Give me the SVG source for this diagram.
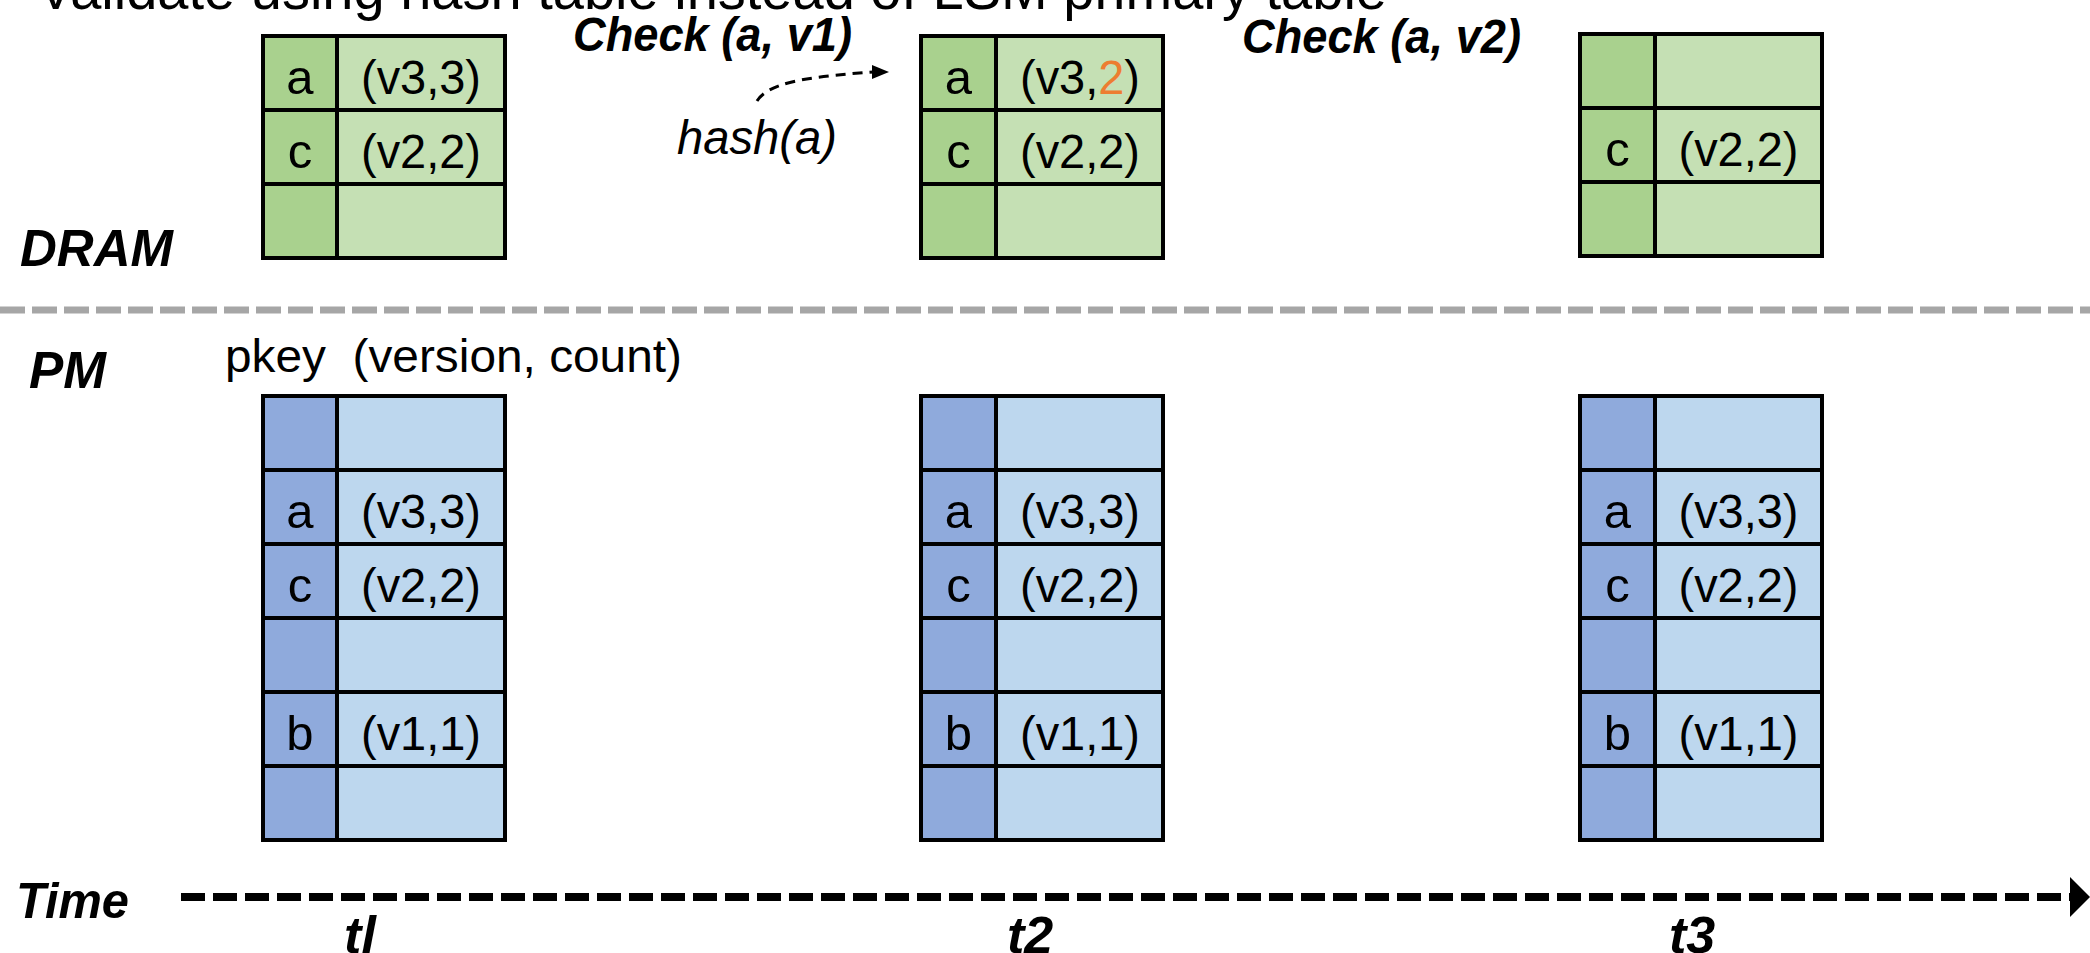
<svg xmlns="http://www.w3.org/2000/svg" width="2090" height="953" viewBox="0 0 2090 953">
<defs>
<style>
.kg{fill:#A9D18E}.vg{fill:#C5E0B4}.kb{fill:#8FAADC}.vb{fill:#BDD7EE}
.grid{fill:none;stroke:#000;stroke-width:4}
.ln{stroke:#000;stroke-width:4}
.t{font-family:"Liberation Sans",Arial,sans-serif;font-size:49px;fill:#000;text-anchor:middle}
.bi{font-family:"Liberation Sans",Arial,sans-serif;font-weight:bold;font-style:italic;fill:#000}
.it{font-family:"Liberation Sans",Arial,sans-serif;font-style:italic;fill:#000}
.reg{font-family:"Liberation Sans",Arial,sans-serif;fill:#000}
.or{fill:#ED7D31}
</style>
</defs>
<rect width="2090" height="953" fill="#fff"/>

<g id="title">
<text class="reg" x="37" y="9" font-size="58" textLength="1350" lengthAdjust="spacingAndGlyphs">Validate using hash table instead of LSM primary table</text>
</g>

<g id="labels">
<text class="bi" x="20" y="266" font-size="52" textLength="153" lengthAdjust="spacingAndGlyphs">DRAM</text>
<text class="bi" x="29" y="388" font-size="52" textLength="77" lengthAdjust="spacingAndGlyphs">PM</text>
<text class="bi" x="16" y="918" font-size="50" textLength="113" lengthAdjust="spacingAndGlyphs">Time</text>
<text class="bi" x="360" y="953" font-size="52" text-anchor="middle">tl</text>
<text class="bi" x="1030" y="953" font-size="52" text-anchor="middle">t2</text>
<text class="bi" x="1692" y="953" font-size="52" text-anchor="middle">t3</text>
<text class="bi" x="573" y="51" font-size="49" textLength="279" lengthAdjust="spacingAndGlyphs">Check (a, v1)</text>
<text class="bi" x="1242" y="53" font-size="49" textLength="279" lengthAdjust="spacingAndGlyphs">Check (a, v2)</text>
<text class="it" x="677" y="154" font-size="48" textLength="160" lengthAdjust="spacingAndGlyphs">hash(a)</text>
<text class="reg" x="225" y="372" font-size="47" textLength="457" lengthAdjust="spacingAndGlyphs" xml:space="preserve">pkey  (version, count)</text>
</g>

<g id="divider">
<line x1="0" y1="310" x2="2090" y2="310" stroke="#A6A6A6" stroke-width="7" stroke-dasharray="25 7"/>
</g>

<g id="dram-t1">
<rect class="kg" x="263" y="36" width="74" height="222"/>
<rect class="vg" x="337" y="36" width="168" height="222"/>
<rect class="grid" x="263" y="36" width="242" height="222"/>
<line class="ln" x1="337" y1="36" x2="337" y2="258"/>
<line class="ln" x1="263" y1="110" x2="505" y2="110"/>
<line class="ln" x1="263" y1="184" x2="505" y2="184"/>
<text class="t" x="300" y="94">a</text><text class="t" x="421" y="94" textLength="120" lengthAdjust="spacingAndGlyphs">(v3,3)</text>
<text class="t" x="300" y="168">c</text><text class="t" x="421" y="168" textLength="120" lengthAdjust="spacingAndGlyphs">(v2,2)</text>
</g>

<g id="dram-t2">
<rect class="kg" x="921" y="36" width="75" height="222"/>
<rect class="vg" x="996" y="36" width="167" height="222"/>
<rect class="grid" x="921" y="36" width="242" height="222"/>
<line class="ln" x1="996" y1="36" x2="996" y2="258"/>
<line class="ln" x1="921" y1="110" x2="1163" y2="110"/>
<line class="ln" x1="921" y1="184" x2="1163" y2="184"/>
<text class="t" x="958.5" y="94">a</text><text class="t" x="1080" y="94" textLength="120" lengthAdjust="spacingAndGlyphs">(v3,<tspan class="or">2</tspan>)</text>
<text class="t" x="958.5" y="168">c</text><text class="t" x="1080" y="168" textLength="120" lengthAdjust="spacingAndGlyphs">(v2,2)</text>
</g>

<g id="dram-t3">
<rect class="kg" x="1580" y="34" width="75" height="222"/>
<rect class="vg" x="1655" y="34" width="167" height="222"/>
<rect class="grid" x="1580" y="34" width="242" height="222"/>
<line class="ln" x1="1655" y1="34" x2="1655" y2="256"/>
<line class="ln" x1="1580" y1="108" x2="1822" y2="108"/>
<line class="ln" x1="1580" y1="182" x2="1822" y2="182"/>
<text class="t" x="1617.5" y="166">c</text><text class="t" x="1738.5" y="166" textLength="120" lengthAdjust="spacingAndGlyphs">(v2,2)</text>
</g>

<g id="pm-t1">
<rect class="kb" x="263" y="396" width="74" height="444"/>
<rect class="vb" x="337" y="396" width="168" height="444"/>
<rect class="grid" x="263" y="396" width="242" height="444"/>
<line class="ln" x1="337" y1="396" x2="337" y2="840"/>
<line class="ln" x1="263" y1="470" x2="505" y2="470"/>
<line class="ln" x1="263" y1="544" x2="505" y2="544"/>
<line class="ln" x1="263" y1="618" x2="505" y2="618"/>
<line class="ln" x1="263" y1="692" x2="505" y2="692"/>
<line class="ln" x1="263" y1="766" x2="505" y2="766"/>
<text class="t" x="300" y="528">a</text><text class="t" x="421" y="528" textLength="120" lengthAdjust="spacingAndGlyphs">(v3,3)</text>
<text class="t" x="300" y="602">c</text><text class="t" x="421" y="602" textLength="120" lengthAdjust="spacingAndGlyphs">(v2,2)</text>
<text class="t" x="300" y="750">b</text><text class="t" x="421" y="750" textLength="120" lengthAdjust="spacingAndGlyphs">(v1,1)</text>
</g>

<g id="pm-t2">
<rect class="kb" x="921" y="396" width="75" height="444"/>
<rect class="vb" x="996" y="396" width="167" height="444"/>
<rect class="grid" x="921" y="396" width="242" height="444"/>
<line class="ln" x1="996" y1="396" x2="996" y2="840"/>
<line class="ln" x1="921" y1="470" x2="1163" y2="470"/>
<line class="ln" x1="921" y1="544" x2="1163" y2="544"/>
<line class="ln" x1="921" y1="618" x2="1163" y2="618"/>
<line class="ln" x1="921" y1="692" x2="1163" y2="692"/>
<line class="ln" x1="921" y1="766" x2="1163" y2="766"/>
<text class="t" x="958.5" y="528">a</text><text class="t" x="1080" y="528" textLength="120" lengthAdjust="spacingAndGlyphs">(v3,3)</text>
<text class="t" x="958.5" y="602">c</text><text class="t" x="1080" y="602" textLength="120" lengthAdjust="spacingAndGlyphs">(v2,2)</text>
<text class="t" x="958.5" y="750">b</text><text class="t" x="1080" y="750" textLength="120" lengthAdjust="spacingAndGlyphs">(v1,1)</text>
</g>

<g id="pm-t3">
<rect class="kb" x="1580" y="396" width="75" height="444"/>
<rect class="vb" x="1655" y="396" width="167" height="444"/>
<rect class="grid" x="1580" y="396" width="242" height="444"/>
<line class="ln" x1="1655" y1="396" x2="1655" y2="840"/>
<line class="ln" x1="1580" y1="470" x2="1822" y2="470"/>
<line class="ln" x1="1580" y1="544" x2="1822" y2="544"/>
<line class="ln" x1="1580" y1="618" x2="1822" y2="618"/>
<line class="ln" x1="1580" y1="692" x2="1822" y2="692"/>
<line class="ln" x1="1580" y1="766" x2="1822" y2="766"/>
<text class="t" x="1617.5" y="528">a</text><text class="t" x="1738.5" y="528" textLength="120" lengthAdjust="spacingAndGlyphs">(v3,3)</text>
<text class="t" x="1617.5" y="602">c</text><text class="t" x="1738.5" y="602" textLength="120" lengthAdjust="spacingAndGlyphs">(v2,2)</text>
<text class="t" x="1617.5" y="750">b</text><text class="t" x="1738.5" y="750" textLength="120" lengthAdjust="spacingAndGlyphs">(v1,1)</text>
</g>

<g id="connectors">
<path d="M757,101 C768,84 800,77 874,72" fill="none" stroke="#000" stroke-width="3" stroke-dasharray="10 7"/>
<polygon points="872,65 889,72 872,79" fill="#000"/>
<line x1="181" y1="897" x2="2070" y2="897" stroke="#000" stroke-width="8" stroke-dasharray="24 8"/>
<polygon points="2070,877 2090,897 2070,917" fill="#000"/>
</g>
</svg>
